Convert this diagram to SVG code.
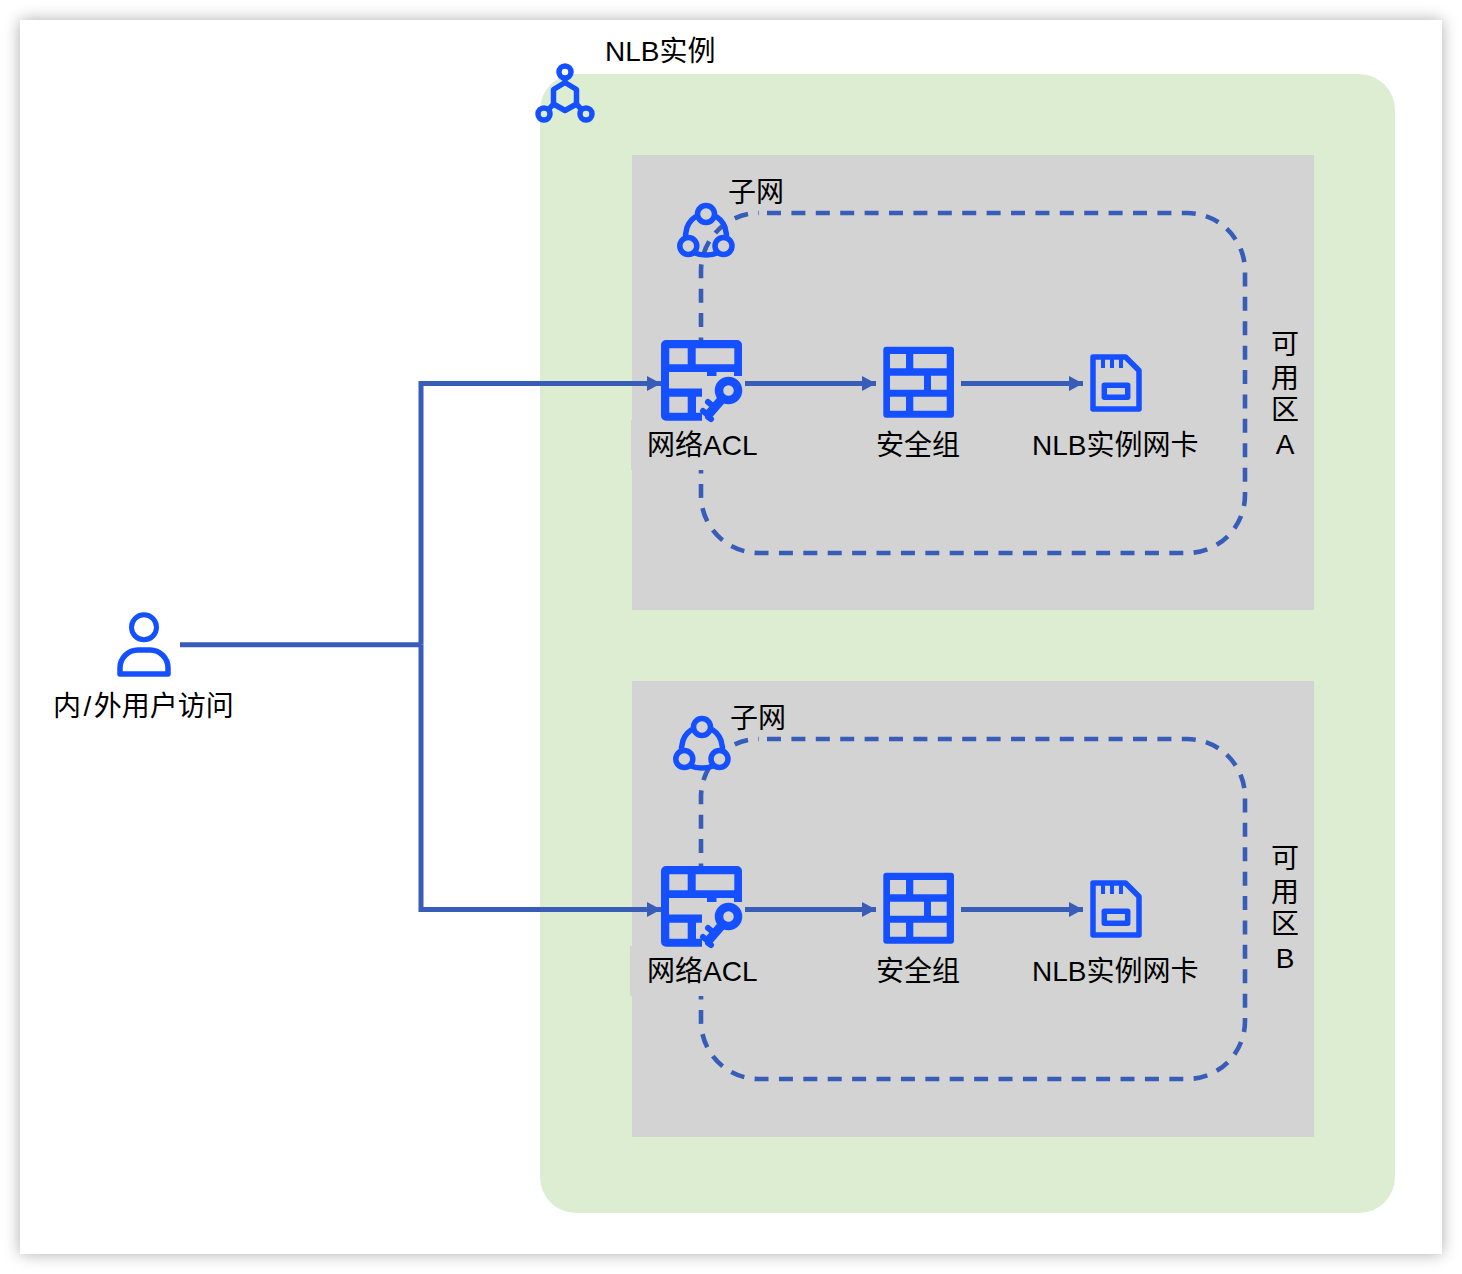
<svg xmlns="http://www.w3.org/2000/svg" width="1462" height="1274" viewBox="0 0 1462 1274">
  <style>
    .label { font-family: "Liberation Sans", "Noto Sans CJK SC", sans-serif; font-size: 28px; fill: #000; }
    .mid { text-anchor: middle; }
    .flow { fill: none; stroke: #385DB8; stroke-width: 5; }
    .boundary { fill: none; stroke: #385DB8; stroke-width: 4.600; stroke-dasharray: 14 10.400; }
    .icon-line { fill: none; stroke: #1450FF; stroke-width: 5.500; stroke-linejoin: round; }
    .icon-fill { fill: #1450FF; fill-rule: evenodd; }
    .zone { fill: #D3D3D3; }
    .ring { fill: #D3D3D3; stroke: #1450FF; stroke-width: 5.500; }
  </style>
  <defs>
    <filter id="windowShadow" x="-5%" y="-5%" width="110%" height="110%">
      <feDropShadow dx="0" dy="0" stdDeviation="8" flood-color="#000" flood-opacity="0.32"/>
    </filter>
    <marker id="arrow" markerUnits="userSpaceOnUse" markerWidth="15" markerHeight="16" refX="14" refY="8" orient="auto">
      <path d="M0 0.500 L14 8 L0 15.500 Z" fill="#385DB8"/>
    </marker>
    <g id="aclIcon">
      <rect class="zone" x="661" y="340" width="81" height="81"/>
      <path class="icon-fill" d="M661 345a5 5 0 0 1 5-5H737a5 5 0 0 1 5 5V376H734V372H716.500V376H707V372H669V388.500H702V396.700H696V412.700H702V420.700H666a5 5 0 0 1-5-5Z M669.300 348.300V364.300H687.700V348.300Z M695.700 348.300V364.300H734.300V348.300Z M669.300 396.700V412.700H687.700V396.700Z"/>
      <circle cx="728.500" cy="390.500" r="9.500" fill="none" stroke="#1450FF" stroke-width="8.500"/>
      <path d="M722 399L709 414" fill="none" stroke="#1450FF" stroke-width="9"/>
      <path d="M708 402L714 407M703 411L709 416M708 417L711 419" fill="none" stroke="#1450FF" stroke-width="6" stroke-linecap="round"/>
    </g>
    <path id="wallIcon" class="icon-fill" d="M886.300 346.700H951a3 3 0 0 1 3 3V414.700a3 3 0 0 1-3 3H886.300a3 3 0 0 1-3-3V349.700a3 3 0 0 1 3-3Z M890 354V368.300H906V354Z M913.300 354V368.300H946.700V354Z M890 375.700V389.700H924V375.700Z M931 375.700V389.700H946.700V375.700Z M890 396.700V410.700H906V396.700Z M913.300 396.700V410.700H946.700V396.700Z"/>
    <g id="cardIcon">
      <path class="icon-line" d="M1093 357H1125.500L1139 370.500V409H1093Z"/>
      <rect class="icon-line" x="1104.300" y="385.300" width="23.400" height="12"/>
      <path d="M1103 359V368M1112 359V368M1121 359V368" fill="none" stroke="#1450FF" stroke-width="4"/>
    </g>
    <g id="subnetIcon">
      <path d="M698 215.500A20.500 20.500 0 0 0 687 227.500L685.500 234.500Q686 240 688 246M714 215.500A20.500 20.500 0 0 1 725 227.500L726.500 234.500Q726 240 723.500 246M692 252Q706 258 720 252" class="icon-line"/>
      <circle class="ring" cx="706" cy="214" r="8.500"/>
      <circle class="ring" cx="688.300" cy="246" r="8.500"/>
      <circle class="ring" cx="723.500" cy="246" r="8.500"/>
    </g>
  </defs>

  <rect id="window" x="20" y="20" width="1422" height="1234" fill="#fff" filter="url(#windowShadow)"/>

  <g id="nlb-instance">
    <rect x="540" y="74" width="855" height="1139" rx="36" fill="#DCEDD2"/>
    <path class="icon-line" d="M565 82.500L576.500 89.500V104L565 110.500L553.500 104V89.500Z M565 78V82.500 M553.500 104L549 109 M576.500 104L581 109"/>
    <circle class="icon-line" cx="565" cy="72" r="6"/>
    <circle class="icon-line" cx="544" cy="114" r="6"/>
    <circle class="icon-line" cx="586" cy="114" r="6"/>
    <text class="label" x="605" y="61">NLB实例</text>
  </g>

  <g id="zone-a">
    <rect class="zone" x="632" y="155" width="682" height="455"/>
    <text class="label mid" x="1285" y="354">可</text>
    <text class="label mid" x="1285" y="388">用</text>
    <text class="label mid" x="1285" y="420">区</text>
    <text class="label mid" x="1285" y="453.500">A</text>
  </g>
  <g id="zone-b">
    <rect class="zone" x="632" y="681" width="682" height="456"/>
    <text class="label mid" x="1285" y="868">可</text>
    <text class="label mid" x="1285" y="902">用</text>
    <text class="label mid" x="1285" y="934">区</text>
    <text class="label mid" x="1285" y="967.500">B</text>
  </g>

  <g id="connectors">
    <path id="boundary-a" class="boundary" d="M767 213H1187A58 58 0 0 1 1245 271V495A58 58 0 0 1 1187 553H759A58 58 0 0 1 701 495V271A58 58 0 0 1 759 213"/>
    <path id="boundary-b" class="boundary" d="M767 739H1187A58 58 0 0 1 1245 797V1021A58 58 0 0 1 1187 1079H759A58 58 0 0 1 701 1021V797A58 58 0 0 1 759 739"/>
    <path class="flow" d="M180 644.700H421"/>
    <path class="flow" marker-end="url(#arrow)" d="M421 644.700V383.500H661"/>
    <path class="flow" marker-end="url(#arrow)" d="M421 644.700V909.500H661"/>
    <path class="flow" marker-end="url(#arrow)" d="M745 383.500H876"/>
    <path class="flow" marker-end="url(#arrow)" d="M961 383.500H1083"/>
    <path class="flow" marker-end="url(#arrow)" d="M745 909.500H876"/>
    <path class="flow" marker-end="url(#arrow)" d="M961 909.500H1083"/>
  </g>

  <g id="user">
    <circle cx="144" cy="627.300" r="12.500" fill="none" stroke="#1450FF" stroke-width="5"/>
    <path class="icon-line" d="M120 674V668a18 18 0 0 1 18-18H150a18 18 0 0 1 18 18V674Z"/>
    <text class="label" x="53" y="716">内<tspan dx="2.500">/</tspan><tspan dx="2.500">外</tspan>用户访问</text>
  </g>

  <g id="subnet-a">
    <use href="#subnetIcon"/>
    <text class="label" x="728" y="202">子网</text>
  </g>
  <g id="acl-a">
    <rect class="zone" x="631" y="420" width="140" height="50"/>
    <use href="#aclIcon"/>
    <text class="label" x="647" y="455">网络ACL</text>
  </g>
  <g id="security-group-a">
    <use href="#wallIcon"/>
    <text class="label" x="876" y="455">安全组</text>
  </g>
  <g id="nic-a">
    <use href="#cardIcon"/>
    <text class="label" x="1032" y="455">NLB实例网卡</text>
  </g>

  <g id="subnet-b">
    <use href="#subnetIcon" x="-4" y="513"/>
    <text class="label" x="730" y="728">子网</text>
  </g>
  <g id="acl-b">
    <rect class="zone" x="630" y="946" width="141" height="50"/>
    <use href="#aclIcon" y="526"/>
    <text class="label" x="647" y="981">网络ACL</text>
  </g>
  <g id="security-group-b">
    <use href="#wallIcon" y="526"/>
    <text class="label" x="876" y="981">安全组</text>
  </g>
  <g id="nic-b">
    <use href="#cardIcon" y="526"/>
    <text class="label" x="1032" y="981">NLB实例网卡</text>
  </g>
</svg>
